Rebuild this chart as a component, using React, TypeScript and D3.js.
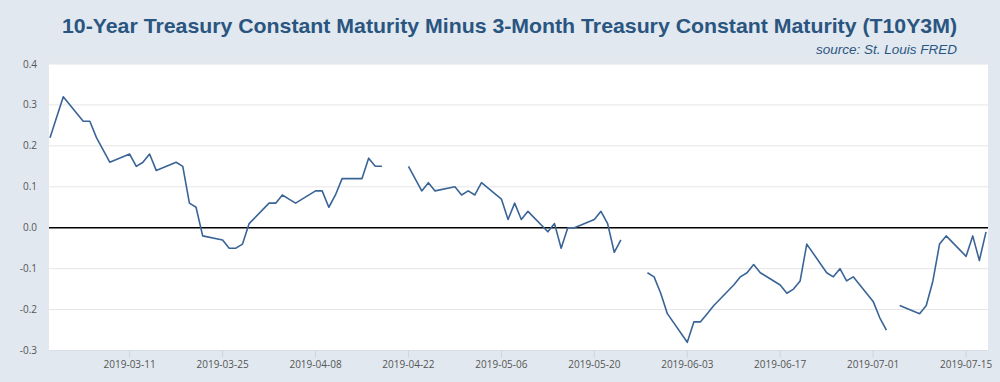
import React from "react";
import * as d3 from "d3";

const dates: string[] = [
  "2019-02-27","2019-02-28","2019-03-01",
  "2019-03-04","2019-03-05","2019-03-06","2019-03-07","2019-03-08",
  "2019-03-11","2019-03-12","2019-03-13","2019-03-14","2019-03-15",
  "2019-03-18","2019-03-19","2019-03-20","2019-03-21","2019-03-22",
  "2019-03-25","2019-03-26","2019-03-27","2019-03-28","2019-03-29",
  "2019-04-01","2019-04-02","2019-04-03","2019-04-04","2019-04-05",
  "2019-04-08","2019-04-09","2019-04-10","2019-04-11","2019-04-12",
  "2019-04-15","2019-04-16","2019-04-17","2019-04-18","2019-04-19",
  "2019-04-22","2019-04-23","2019-04-24","2019-04-25","2019-04-26",
  "2019-04-29","2019-04-30","2019-05-01","2019-05-02","2019-05-03",
  "2019-05-06","2019-05-07","2019-05-08","2019-05-09","2019-05-10",
  "2019-05-13","2019-05-14","2019-05-15","2019-05-16","2019-05-17",
  "2019-05-20","2019-05-21","2019-05-22","2019-05-23","2019-05-24",
  "2019-05-27","2019-05-28","2019-05-29","2019-05-30","2019-05-31",
  "2019-06-03","2019-06-04","2019-06-05","2019-06-06","2019-06-07",
  "2019-06-10","2019-06-11","2019-06-12","2019-06-13","2019-06-14",
  "2019-06-17","2019-06-18","2019-06-19","2019-06-20","2019-06-21",
  "2019-06-24","2019-06-25","2019-06-26","2019-06-27","2019-06-28",
  "2019-07-01","2019-07-02","2019-07-03","2019-07-04","2019-07-05",
  "2019-07-08","2019-07-09","2019-07-10","2019-07-11","2019-07-12",
  "2019-07-15","2019-07-16","2019-07-17","2019-07-18",
];

const values: (number | null)[] = [
  0.22, 0.27, 0.32,
  0.26, 0.26, 0.22, 0.19, 0.16,
  0.18, 0.15, 0.16, 0.18, 0.14,
  0.16, 0.15, 0.06, 0.05, -0.02,
  -0.03, -0.05, -0.05, -0.04, 0.01,
  0.06, 0.06, 0.08, 0.07, 0.06,
  0.09, 0.09, 0.05, 0.08, 0.12,
  0.12, 0.17, 0.15, 0.15, null,
  0.15, 0.12, 0.09, 0.11, 0.09,
  0.10, 0.08, 0.09, 0.08, 0.11,
  0.07, 0.02, 0.06, 0.02, 0.04,
  -0.01, 0.01, -0.05, 0.0, 0.0,
  0.02, 0.04, 0.01, -0.06, -0.03,
  null, -0.11, -0.12, -0.16, -0.21,
  -0.28, -0.23, -0.23, -0.21, -0.19,
  -0.14, -0.12, -0.11, -0.09, -0.11,
  -0.14, -0.16, -0.15, -0.13, -0.04,
  -0.11, -0.12, -0.10, -0.13, -0.12,
  -0.18, -0.22, -0.25, null, -0.19,
  -0.21, -0.19, -0.13, -0.04, -0.02,
  -0.07, -0.02, -0.08, -0.01,
];

const xTickLabels: string[] = [
  "2019-03-11","2019-03-25","2019-04-08","2019-04-22","2019-05-06",
  "2019-05-20","2019-06-03","2019-06-17","2019-07-01","2019-07-15",
];
const yTicks: number[] = [-0.3, -0.2, -0.1, 0.0, 0.1, 0.2, 0.3, 0.4];

const TITLE = "10-Year Treasury Constant Maturity Minus 3-Month Treasury Constant Maturity (T10Y3M)";
const SOURCE = "source: St. Louis FRED";

const parse = d3.utcParse("%Y-%m-%d");

export default function App() {
  const W = 1000, H = 382;
  const plotLeft = 49, plotRight = 988, plotTop = 64, plotBottom = 350.5;
  const x = d3.scaleUtc()
    .domain([parse(dates[0])!, parse(dates[dates.length - 1])!])
    .range([50, 986]);
  const y = d3.scaleLinear().domain([-0.3, 0.4]).range([plotBottom, plotTop]);

  const data = dates.map((d, i) => ({ date: parse(d)!, v: values[i] }));
  const line = d3.line<{ date: Date; v: number | null }>()
    .defined(d => d.v !== null)
    .x(d => x(d.date))
    .y(d => y(d.v as number));

  const tickFont = "'Open Sans', sans-serif";

  return (
    <svg width={W} height={H} style={{ position: "absolute", left: 0, top: 0, display: "block" }}>
      <rect x={0} y={0} width={W} height={H} fill="#e1e8ef" />
      <text x={62} y={33} textAnchor="start" fontFamily="'Liberation Sans', Arial, sans-serif"
        fontWeight="bold" fontSize={21} fill="#2a5580" textLength={895} lengthAdjust="spacingAndGlyphs">{TITLE}</text>
      <text x={957} y={54} textAnchor="end" fontFamily="'Liberation Sans', Arial, sans-serif"
        fontStyle="italic" fontSize={13.5} fill="#2a5580">{SOURCE}</text>
      <rect x={plotLeft} y={plotTop} width={plotRight - plotLeft} height={plotBottom - plotTop} fill="#ffffff" />
      {yTicks.map(t => (
        <g key={t}>
          {t !== 0 && (
            <line x1={plotLeft} x2={plotRight} y1={y(t)} y2={y(t)} stroke="#e6e6e6" strokeWidth={1} />
          )}
          <text x={37} y={y(t)} dy="0.35em" textAnchor="end" fontFamily={tickFont}
            fontSize={10} fill="#555">{t.toFixed(1)}</text>
        </g>
      ))}
      <line x1={plotLeft} x2={plotRight} y1={plotBottom} y2={plotBottom} stroke="#d8dee6" strokeWidth={1} />
      {xTickLabels.map(t => {
        const xx = x(parse(t)!);
        return (
          <g key={t}>
            <line x1={xx} x2={xx} y1={plotBottom} y2={plotBottom + 7} stroke="#ccd6e0" strokeWidth={1} />
            <text x={xx} y={364} dy="0.35em" textAnchor="middle" fontFamily={tickFont}
              fontSize={10} fill="#555">{t}</text>
          </g>
        );
      })}
      <line x1={plotLeft} x2={plotRight} y1={y(0)} y2={y(0)} stroke="#000" strokeWidth={1.6} />
      <path d={line(data) || ""} fill="none" stroke="#3a6496" strokeWidth={1.6} strokeLinejoin="round" />
    </svg>
  );
}
